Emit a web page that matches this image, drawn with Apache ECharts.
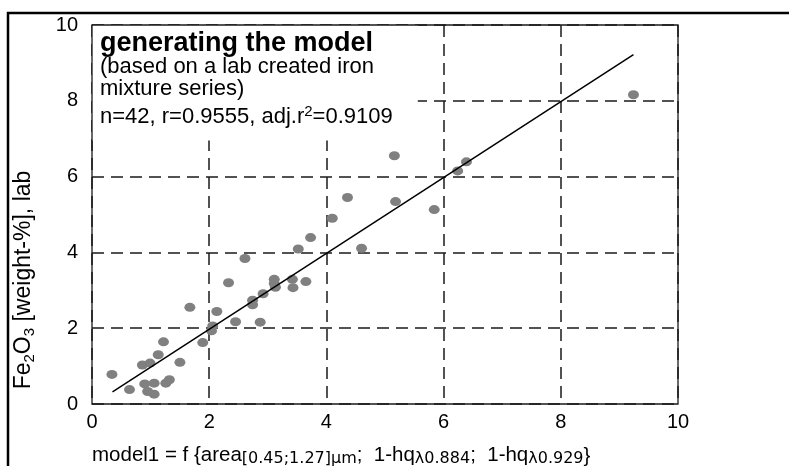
<!DOCTYPE html>
<html>
<head>
<meta charset="utf-8">
<script src="https://cdn.jsdelivr.net/npm/echarts@6/dist/echarts.min.js"></script>
<style>
html,body{margin:0;padding:0;background:#fff;}
#chart{width:789px;height:466px;}
</style>
</head>
<body>
<div id="chart"></div>
<script>
// model1 (x) vs. lab Fe2O3 (y)
const modelValues = [0.34,0.64,0.86,0.99,1.13,1.22,0.90,1.06,0.95,1.06,1.26,1.32,1.50,1.67,1.89,2.04,2.06,2.13,2.33,2.45,2.61,2.74,2.74,2.87,2.92,3.11,3.11,3.13,3.42,3.43,3.65,3.52,3.73,4.60,4.10,4.36,5.16,5.18,5.84,6.24,6.39,9.24];
const labValues   = [0.78,0.38,1.03,1.08,1.30,1.64,0.53,0.55,0.33,0.26,0.55,0.64,1.10,2.55,1.62,1.93,2.06,2.44,3.20,2.17,3.84,2.74,2.62,2.16,2.91,3.29,3.18,3.08,3.29,3.07,3.23,4.09,4.39,4.11,4.90,5.45,6.55,5.34,5.13,6.15,6.39,8.16];
const fitLineX = [0.35, 9.24];
const fitLineY = [0.32, 9.22];
const tickValues = [0, 2, 4, 6, 8, 10];
const textBoxCorner = [[0, 10], [5.56, 6.95]];

const FONT = 'Liberation Sans, Arial, sans-serif';
const scatterData = modelValues.map((x, i) => [x, labValues[i]]);
const lineData = fitLineX.map((x, i) => [x, fitLineY[i]]);

const chart = echarts.init(document.getElementById('chart'), null, {renderer: 'canvas'});
const axisCommon = {
  type: 'value', min: tickValues[0], max: tickValues[tickValues.length - 1], interval: 2,
  axisLine: {show: false}, axisTick: {show: false},
  splitLine: {show: true, lineStyle: {color: '#1a1a1a', width: 1.5, type: [12, 7]}}
};
chart.setOption({
  animation: false,
  backgroundColor: '#fff',
  grid: {left: 92, right: 111, top: 25, bottom: 62, show: true, z: 5,
         borderColor: '#1a1a1a', borderWidth: 1.3, backgroundColor: 'transparent'},
  xAxis: Object.assign({}, axisCommon, {
    axisLabel: {color: '#000', fontSize: 20, fontFamily: FONT, margin: 8}
  }),
  yAxis: Object.assign({}, axisCommon, {
    axisLabel: {color: '#000', fontSize: 20, fontFamily: FONT, margin: 14}
  }),
  series: [
    {
      type: 'scatter', z: 2, data: scatterData, symbol: 'circle', symbolSize: [11, 9],
      itemStyle: {color: '#808080', opacity: 1},
      markArea: {silent: true, itemStyle: {color: '#fff', opacity: 1, borderWidth: 0},
        data: [[{coord: textBoxCorner[0]}, {coord: textBoxCorner[1]}]]}
    },
    {
      type: 'line', z: 3, data: lineData, showSymbol: false, symbol: 'none',
      lineStyle: {color: '#000', width: 1.5}
    }
  ],
  graphic: [
    {type: 'rect', z: 10, shape: {x: 8, y: 13, width: 900, height: 600},
     style: {fill: null, stroke: '#000', lineWidth: 2.5}},
    {type: 'text', z: 10, x: 100, y: 44,
     style: {text: 'generating the model', font: 'bold 27px ' + FONT, fill: '#000', verticalAlign: 'middle'}},
    {type: 'text', z: 10, x: 100, y: 67,
     style: {text: '(based on a lab created iron', font: '22px ' + FONT, fill: '#000', verticalAlign: 'middle'}},
    {type: 'text', z: 10, x: 100, y: 89,
     style: {text: 'mixture series)', font: '22px ' + FONT, fill: '#000', verticalAlign: 'middle'}},
    {type: 'text', z: 10, x: 100, y: 116,
     style: {text: '{m|n=42, r=0.9555, adj.r}{s|2}{m|=0.9109}', fill: '#000', verticalAlign: 'middle',
       rich: {m: {fontSize: 22, fontFamily: FONT, lineHeight: 24, verticalAlign: 'bottom'},
              s: {fontSize: 15, fontFamily: FONT, lineHeight: 15, verticalAlign: 'top'}}}},
    {type: 'text', z: 10, x: 25, y: 280, rotation: Math.PI / 2,
     style: {text: '{m|Fe}{s|2}{m|O}{s|3}{m| [weight-%], lab}', fill: '#000', align: 'center', verticalAlign: 'middle',
       rich: {m: {fontSize: 23, fontFamily: FONT, lineHeight: 25, verticalAlign: 'top'},
              s: {fontSize: 15, fontFamily: FONT, lineHeight: 15, verticalAlign: 'bottom'}}}},
    {type: 'text', z: 10, x: 92, y: 456,
     style: {text: '{m|model1 = f {area}{s|[0.45;1.27]µm}{m|;  1-hq}{s|λ0.884}{m|;  1-hq}{s|λ0.929}}',
       font: '20.5px ' + FONT, lineHeight: 22,
       fill: '#000', verticalAlign: 'middle',
       rich: {m: {fontSize: 20.5, fontFamily: FONT, lineHeight: 22, verticalAlign: 'top'},
              s: {fontSize: 16, fontFamily: 'DejaVu Sans', lineHeight: 16, verticalAlign: 'bottom'}}}}
  ]
});
</script>
</body>
</html>
